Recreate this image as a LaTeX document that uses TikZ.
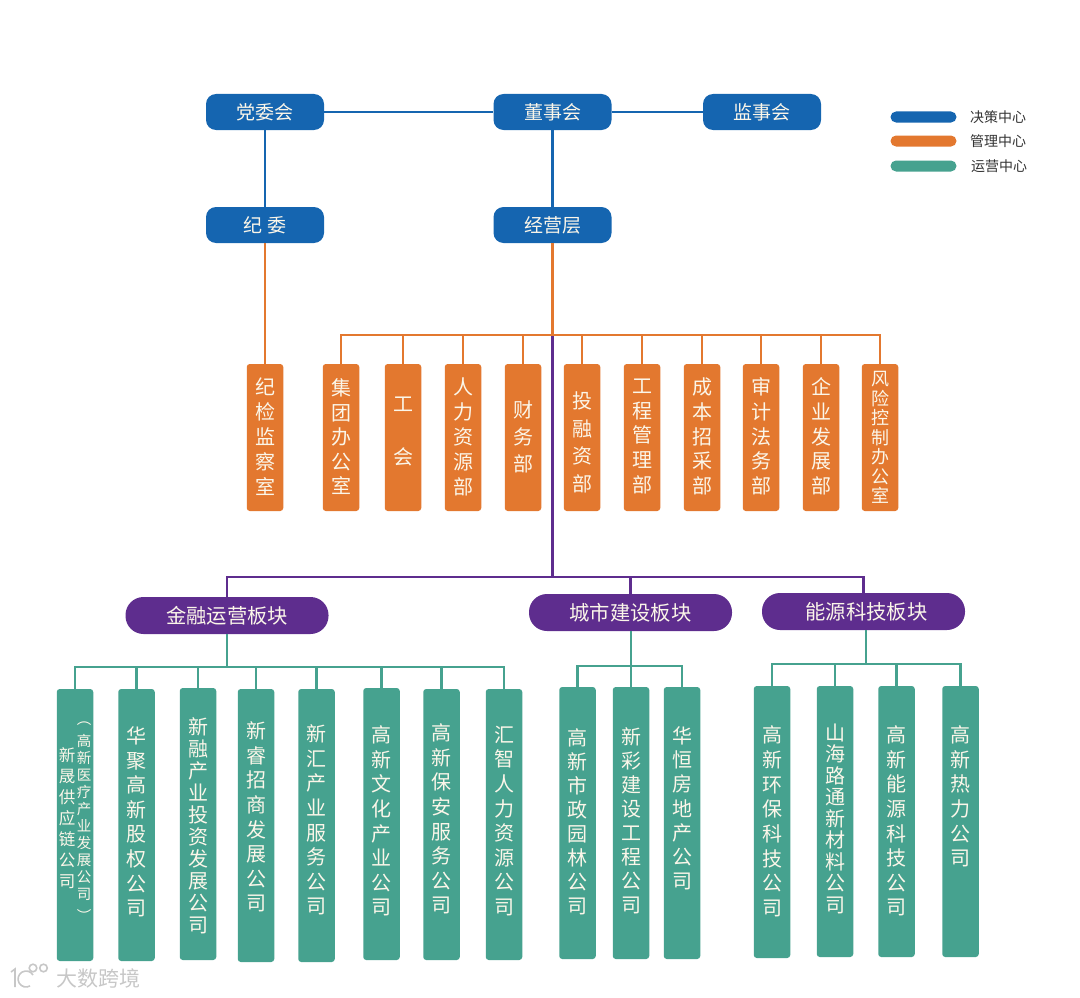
\documentclass[tikz,border=0pt]{standalone}
\usepackage{xcolor}
\usepackage{fontspec}
\newfontfamily\zhfont{Noto Sans CJK SC}
\usepackage{tikz}
\usetikzlibrary{positioning}
\definecolor{declblue}{HTML}{1565B0}
\definecolor{mgmtorange}{HTML}{E3782F}
\definecolor{opsteal}{HTML}{46A28F}
\definecolor{boardpurple}{HTML}{5E2D8E}
\definecolor{labelwhite}{HTML}{FBF6E9}
\tikzset{
  toppill/.style={fill=declblue, rounded corners=10pt, minimum width=118pt, minimum height=36pt, inner sep=0pt, text=labelwhite, font=\zhfont\fontsize{19}{22}\selectfont},
  sectorpill/.style={fill=boardpurple, rounded corners=18pt, minimum width=203pt, minimum height=37pt, inner sep=0pt, text=labelwhite, font=\zhfont\fontsize{20.3}{22}\selectfont},
  colbox/.style={rounded corners=3pt, minimum width=36.5pt, inner sep=0pt},
  coltext/.style={inner sep=0pt, align=center, text=labelwhite},
  legendbar/.style={rounded corners=5.5pt, minimum width=66pt, minimum height=11pt, inner sep=0pt},
  legendtext/.style={anchor=west, inner sep=0pt, text=black!80, font=\zhfont\fontsize{14}{16}\selectfont},
  blueline/.style={draw=declblue, line width=2.4pt},
  orangeline/.style={draw=mgmtorange, line width=2.4pt},
  tealline/.style={draw=opsteal, line width=2.4pt},
  purpleline/.style={draw=boardpurple, line width=2.4pt},
  markline/.style={draw=black!22, line width=1.6pt}
}
\begin{document}
\begin{tikzpicture}[x=1pt, y=-1pt]
\useasboundingbox (0,0) rectangle (1080,998);

% top level
\node[toppill] (party) at (265,112) {党委会};
\node[toppill] (board) at (552.5,112) {董事会};
\node[toppill] (super) at (762,112) {监事会};
\node[toppill] (disc) at (265,225) {纪\hspace{5pt}委};
\node[toppill] (exec) at (552.5,225) {经营层};
\draw[blueline] (party) -- (board);
\draw[blueline] (board) -- (super);
\draw[blueline] (party) -- (disc);
\draw[blueline] (board) -- (exec);

% legend
\foreach \n/\y/\c/\t/\lx in {lgdec/117/declblue/决策中心/970, lgman/141/mgmtorange/管理中心/970, lgops/166/opsteal/运营中心/971} {
    \node[legendbar, fill=\c] (\n) at (923.5,\y) {};
    \node[legendtext] (\n-t) at (\lx,\y) {\t};
}

% sectors
\coordinate (obus) at (552.5,335);
\coordinate (pbus) at (552.5,577);
\node[sectorpill] (fin) at (227,615.5) {金融运营板块};
\node[sectorpill] (city) at (630.5,612.5) {城市建设板块};
\node[sectorpill] (energy) at (863.5,611.5) {\hspace{6pt}能源科技板块};
\draw[purpleline] (obus) -- (pbus);
\foreach \n in {fin, city, energy} {
    \draw[purpleline] (pbus) -| (\n.north);
}

% management departments
\draw[orangeline] (exec) -- (obus);
\node[colbox, fill=mgmtorange, minimum height=147pt] (jijian) at (265,437.5) {};
\node[coltext, font=\zhfont\fontsize{20}{25}\selectfont] (jijian-t) at (265,437) {纪\\检\\监\\察\\室};
\draw[orangeline] (disc) -- (jijian);
\foreach \n/\x/\yt/\ls/\fs/\t in {
    office/341/437/24.5/20/{集\\团\\办\\公\\室},
    union/403/431.5/53/20/{工\\会},
    hr/463/437/25/20/{人\\力\\资\\源\\部},
    fina/523/437/27/20/{财\\务\\部},
    invest/582/442.5/27.7/20/{投\\融\\资\\部},
    proj/642/436.5/24.7/20/{工\\程\\管\\理\\部},
    cost/702/436.5/24.7/20/{成\\本\\招\\采\\部},
    audit/761/436.5/24.7/20/{审\\计\\法\\务\\部},
    dev/821/436.5/24.7/20/{企\\业\\发\\展\\部},
    risk/880/437.5/19.5/18/{风\\险\\控\\制\\办\\公\\室}} {
    \node[colbox, fill=mgmtorange, minimum height=147pt] (\n) at (\x,437.5) {};
    \node[coltext, font=\zhfont\fontsize{\fs}{\ls}\selectfont] (\n-t) at (\x,\yt) {\t};
    \draw[orangeline] (obus) -| (\n.north);
}

% operating companies
\coordinate (finbus) at (227,667);
\coordinate (citybus) at (631,666);
\coordinate (enbus) at (866,664);
\draw[tealline] (fin) -- (finbus);
\draw[tealline] (city.south -| citybus) -- (citybus);
\draw[tealline] (energy.south -| enbus) -- (enbus);
\foreach \n/\x/\y/\h/\yt/\ls/\b/\t in {
    jusheng/136.5/825/272/822/24.6/finbus/{华\\聚\\高\\新\\股\\权\\公\\司},
    xinrong/198/824/272/826/22/finbus/{新\\融\\产\\业\\投\\资\\发\\展\\公\\司},
    xinrui/256/825.5/273/817/24.6/finbus/{新\\睿\\招\\商\\发\\展\\公\\司},
    xinhui/316.5/825.5/273/820/24.6/finbus/{新\\汇\\产\\业\\服\\务\\公\\司},
    culture/381.5/824/272/821/24.6/finbus/{高\\新\\文\\化\\产\\业\\公\\司},
    security/441.5/824.5/271/819/24.6/finbus/{高\\新\\保\\安\\服\\务\\公\\司},
    hrco/504/824.5/271/821/24.6/finbus/{汇\\智\\人\\力\\资\\源\\公\\司},
    garden/577.5/823/272/821.5/24/citybus/{高\\新\\市\\政\\园\\林\\公\\司},
    xincai/631/823/272/821/24/citybus/{新\\彩\\建\\设\\工\\程\\公\\司},
    huaheng/682/823/272/808.5/24.2/citybus/{华\\恒\\房\\地\\产\\公\\司},
    envir/772/822/272/821.5/24.7/enbus/{高\\新\\环\\保\\科\\技\\公\\司},
    shanhai/835/821.5/271/818.5/21.5/enbus/{山\\海\\路\\通\\新\\材\\料\\公\\司},
    power/896.5/821.5/271/821/24.6/enbus/{高\\新\\能\\源\\科\\技\\公\\司},
    heat/960.5/821.5/271/796.5/24.6/enbus/{高\\新\\热\\力\\公\\司}} {
    \node[colbox, fill=opsteal, minimum height=\h pt] (\n) at (\x,\y) {};
    \node[coltext, font=\zhfont\fontsize{20}{\ls}\selectfont] (\n-t) at (\x,\yt) {\t};
    \draw[tealline] (\b) -| (\n.north);
}

% first company has two columns
\node[colbox, fill=opsteal, minimum height=272pt] (supply) at (75,825) {};
\node[coltext, font=\zhfont\fontsize{16.5}{21}\selectfont] (supply-a) at (67,818.5) {新\\晟\\供\\应\\链\\公\\司};
\node[coltext, font=\zhfont\fontsize{14.5}{17}\selectfont] (supply-b) at (84,821.5) {︵\\[5pt]高\\新\\医\\疗\\产\\业\\发\\展\\公\\司\\[5pt]︶};
\draw[tealline] (finbus) -| (supply.north);

% watermark
\node[inner sep=0pt, text=black!22, font=\zhfont\fontsize{21}{24}\selectfont] (mark) at (98.5,978) {大数跨境};
\draw[markline] (11,972) -- (15,969) -- (15,987);
\draw[markline] (33,975) arc (-30:-300:8);
\draw[markline] (33,968) circle (3.8);
\draw[markline] (43.5,968) circle (3.8);
\end{tikzpicture}
\end{document}
